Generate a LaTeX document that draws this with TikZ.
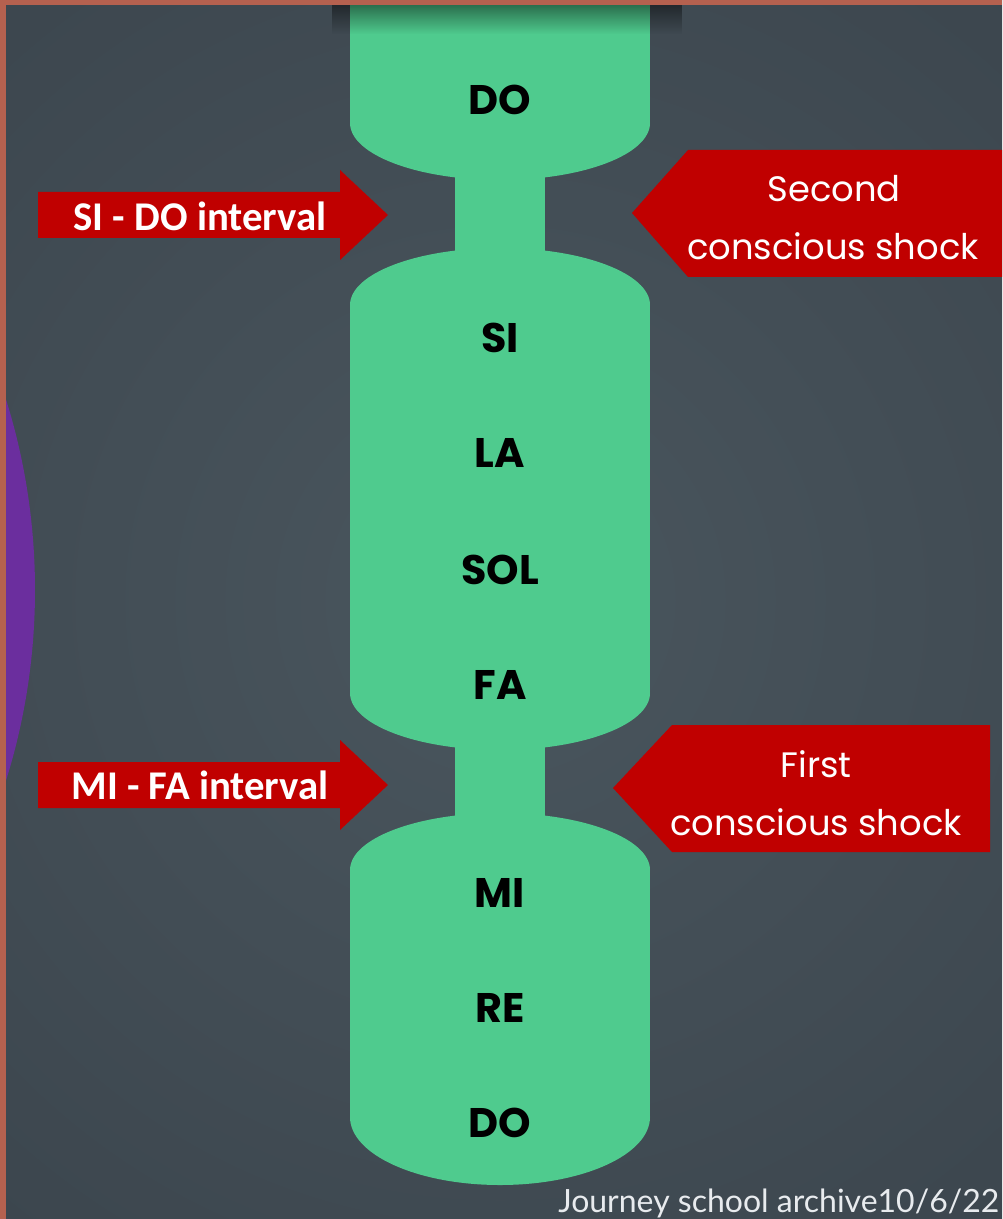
\documentclass[tikz,border=0pt]{standalone}
\usepackage{fontspec}
\newfontfamily\notefont{Poppins}
\newfontfamily\calfont{Carlito}
\newfontfamily\footfont{Lato}
\usetikzlibrary{fadings}
\definecolor{bgout}{HTML}{353E46}
\definecolor{bgin}{HTML}{4A565E}
\definecolor{rim}{HTML}{B5614F}
\definecolor{pipe}{HTML}{4FCB8E}
\definecolor{shock}{HTML}{C00000}
\definecolor{plum}{HTML}{6B2E9E}
\definecolor{foot}{HTML}{E8EBEE}
\tikzfading[name=topshade, top color=transparent!55, bottom color=transparent!100]

\begin{document}
\begin{tikzpicture}[x=0.75pt,y=-0.75pt,every node/.style={inner sep=0},
note/.style={font=\notefont\bfseries\fontsize{31}{31}\selectfont,text=black},
gap/.style={font=\calfont\bfseries\fontsize{30.6}{31}\selectfont,text=white,anchor=base},
push/.style={font=\notefont\fontsize{26.5}{27}\selectfont,text=white,anchor=base}]
\useasboundingbox (0,0) rectangle (1002,1219);
\clip (0,0) rectangle (1002,1219);

% background
\fill[bgout] (0,0) rectangle (1002,1219);
\shade[inner color=bgin,outer color=bgout] (500,600) circle (1200);
\fill[plum] (-602,590) circle (637);

% the pipe
\fill[pipe] (350,5) rectangle (650,123);
\fill[pipe] (500,123) ellipse [x radius=150,y radius=57];
\fill[pipe] (455,123) rectangle (545,305);
\fill[pipe] (500,305) ellipse [x radius=150,y radius=57];
\fill[pipe] (350,305) rectangle (650,693);
\fill[pipe] (500,693) ellipse [x radius=150,y radius=57];
\fill[pipe] (455,693) rectangle (545,870);
\fill[pipe] (500,870) ellipse [x radius=150,y radius=57];
\fill[pipe] (350,870) rectangle (650,1117);
\fill[pipe] (500,1117) ellipse [x radius=150,y radius=68];
\fill[black,path fading=topshade] (332,5) rectangle (682,34);

\node[note] (do-1) at (500,100) {DO};
\node[note] (si-1) at (500,338) {SI};
\node[note] (la-1) at (500,453) {LA};
\node[note] (sol-1) at (500,570) {SOL};
\node[note] (fa-1) at (500,685) {FA};
\node[note] (mi-1) at (500,893) {MI};
\node[note] (re-1) at (500,1008) {RE};
\node[note] (do-2) at (500,1123) {DO};

% intervals
\fill[shock] (38,192) -- (340,192) -- (340,170) -- (388,215) -- (340,260) -- (340,238) -- (38,238) -- cycle;
\fill[shock] (38,762) -- (340,762) -- (340,740) -- (388,785) -- (340,830) -- (340,808) -- (38,808) -- cycle;
\node[gap] (si-do) at (200,231) {SI - DO interval};
\node[gap] (mi-fa) at (200,799) {MI - FA interval};

% shocks
\fill[shock] (632,213) -- (688,150) -- (1010,150) -- (1010,277) -- (688,277) -- cycle;
\fill[shock] (613,788) -- (672,725) -- (990,725) -- (990,852) -- (672,852) -- cycle;
\node[push] (second) at (834,202) {Second};
\node[push] (second-2) at (833,260) {conscious shock};
\node[push] (first) at (816,777) {First};
\node[push] (first-2) at (816,835) {conscious shock};

\node[font=\footfont\fontsize{24}{24}\selectfont,text=foot,anchor=base west] (archive) at (558,1212) {Journey school archive10/6/22};

% frame
\fill[rim] (0,0) rectangle (1002,5);
\fill[rim] (0,0) rectangle (6,1219);
\end{tikzpicture}
\end{document}
